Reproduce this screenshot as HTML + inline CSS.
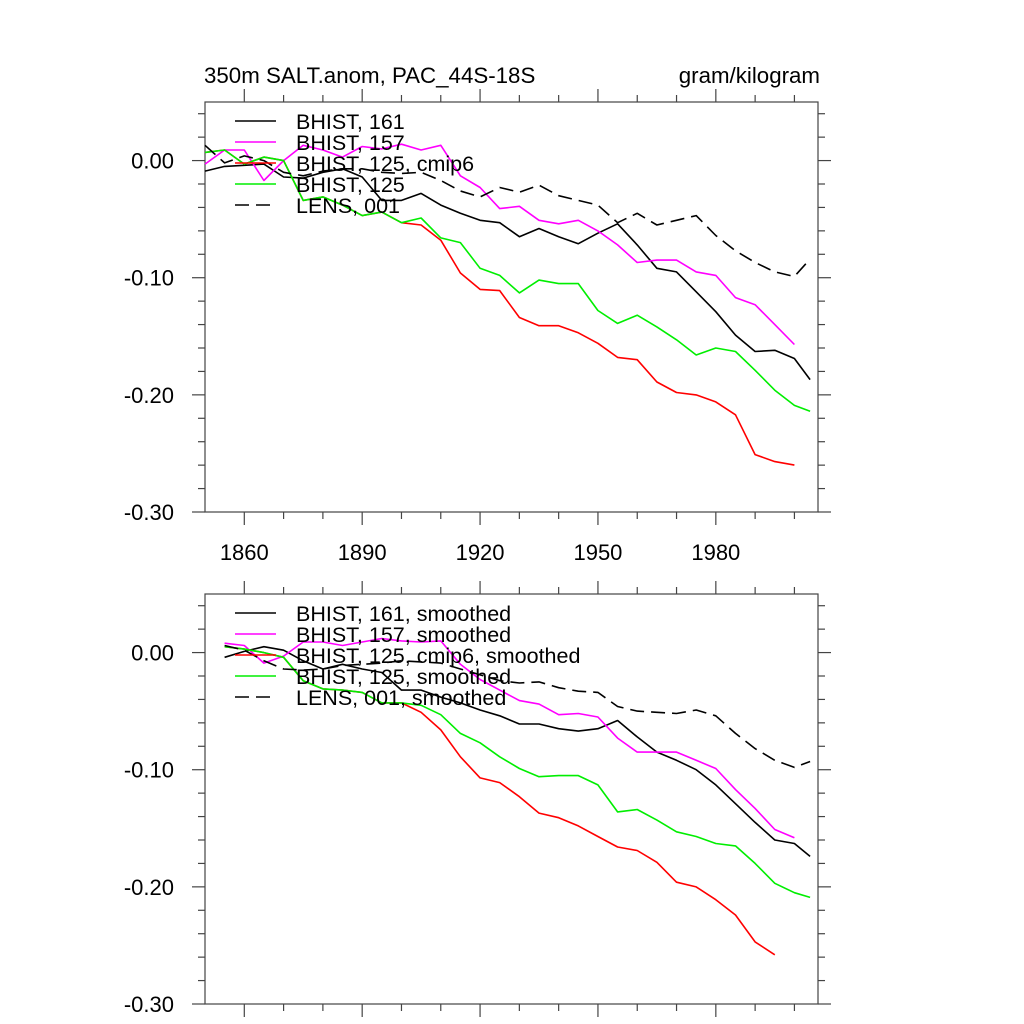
<!DOCTYPE html>
<html><head><meta charset="utf-8"><style>
html,body{margin:0;padding:0;background:#fff}
svg{display:block;font-family:"Liberation Sans",Arial,sans-serif}
</style></head><body>
<svg id="chart" width="1024" height="1024" xmlns="http://www.w3.org/2000/svg">
<text x="204" y="83" font-size="22.3">350m SALT.anom, PAC_44S-18S</text>
<text x="820" y="83" font-size="22.3" text-anchor="end">gram/kilogram</text>
<g id="top"></g>
<g id="bot"></g>
</svg>
<script>
const years = [1850,1855,1860,1865,1870,1875,1880,1885,1890,1895,1900,1905,1910,1915,1920,1925,1930,1935,1940,1945,1950,1955,1960,1965,1970,1975,1980,1985,1990,1995,2000,2004];
const yTicks = [0, -0.1, -0.2, -0.3];
const yTickLabels = ["0.00","-0.10","-0.20","-0.30"];
const xTicks = [1860,1890,1920,1950,1980];
const xTickLabels = ["1860","1890","1920","1950","1980"];

const topBlack = [-0.009,-0.005,-0.004,-0.003,-0.014,-0.015,-0.010,-0.007,-0.014,-0.034,-0.034,-0.028,-0.038,-0.045,-0.051,-0.053,-0.065,-0.058,-0.065,-0.071,-0.062,-0.054,-0.072,-0.092,-0.095,-0.112,-0.129,-0.149,-0.163,-0.162,-0.169,-0.187];
const topMagenta = [-0.003,0.009,0.009,-0.017,0.000,0.013,0.009,0.003,0.012,0.010,0.014,0.009,0.013,-0.013,-0.023,-0.041,-0.039,-0.051,-0.054,-0.051,-0.060,-0.072,-0.087,-0.085,-0.085,-0.095,-0.098,-0.117,-0.123,-0.140,-0.157,null];
const topRed = [0.007,0.009,-0.003,0.003,0.000,-0.034,-0.031,-0.038,-0.047,-0.044,-0.053,-0.055,-0.068,-0.096,-0.110,-0.111,-0.134,-0.141,-0.141,-0.147,-0.156,-0.168,-0.170,-0.189,-0.198,-0.200,-0.206,-0.217,-0.251,-0.257,-0.260,null];
const topGreen = [0.007,0.009,-0.003,0.003,0.000,-0.034,-0.031,-0.038,-0.047,-0.044,-0.053,-0.049,-0.066,-0.070,-0.092,-0.098,-0.113,-0.102,-0.105,-0.105,-0.128,-0.139,-0.132,-0.142,-0.153,-0.166,-0.160,-0.163,-0.179,-0.196,-0.209,-0.214];
const topLens = [0.013,-0.002,0.004,0.000,-0.010,-0.013,-0.009,-0.007,-0.007,-0.010,-0.011,-0.010,-0.017,-0.026,-0.031,-0.023,-0.027,-0.021,-0.030,-0.034,-0.038,-0.053,-0.045,-0.055,-0.051,-0.047,-0.064,-0.077,-0.087,-0.095,-0.099,-0.084];

const botBlack = [null,-0.004,0.001,0.005,0.002,-0.007,-0.014,-0.010,-0.014,-0.017,-0.032,-0.032,-0.038,-0.043,-0.049,-0.054,-0.061,-0.061,-0.065,-0.067,-0.065,-0.058,-0.072,-0.085,-0.092,-0.100,-0.113,-0.129,-0.145,-0.160,-0.163,-0.174];
const botMagenta = [null,0.008,0.006,-0.009,-0.003,0.009,0.009,0.006,0.009,0.012,0.010,0.009,0.010,-0.010,-0.023,-0.032,-0.041,-0.044,-0.053,-0.052,-0.055,-0.073,-0.085,-0.085,-0.085,-0.092,-0.099,-0.117,-0.133,-0.151,-0.158,null];
const botRed = [null,0.005,0.003,0.000,-0.004,-0.024,-0.031,-0.032,-0.034,-0.043,-0.043,-0.051,-0.066,-0.089,-0.107,-0.111,-0.123,-0.137,-0.141,-0.148,-0.157,-0.166,-0.169,-0.179,-0.196,-0.200,-0.211,-0.224,-0.247,-0.258,null,null];
const botGreen = [null,0.005,0.003,0.000,-0.004,-0.024,-0.031,-0.032,-0.034,-0.043,-0.043,-0.045,-0.053,-0.069,-0.077,-0.089,-0.099,-0.106,-0.105,-0.105,-0.113,-0.136,-0.134,-0.143,-0.153,-0.157,-0.163,-0.165,-0.180,-0.197,-0.205,-0.209];
const botLens = [null,0.006,0.002,-0.007,-0.014,-0.015,-0.014,-0.011,-0.010,-0.009,-0.007,-0.008,-0.009,-0.014,-0.019,-0.024,-0.026,-0.025,-0.030,-0.033,-0.034,-0.046,-0.050,-0.051,-0.052,-0.049,-0.054,-0.069,-0.082,-0.092,-0.098,-0.093];

const NS = "http://www.w3.org/2000/svg";
const L = 205, R = 818;
function xs(yr){ return L + (yr - 1850) * (R - L) / 156; }
function mk(tag, attrs, parent){ const e = document.createElementNS(NS, tag); for (const k in attrs) e.setAttribute(k, attrs[k]); parent.appendChild(e); return e; }

function panel(g, top, bottom, series, labels, showXLabels){
  const ys = v => top + (0.05 - v) * (bottom - top) / 0.35;
  const frame = mk('rect', {x:L, y:top, width:R-L, height:bottom-top, fill:'none', stroke:'#444', 'stroke-width':1.2}, g);
  
  
  for (let v = 0.04; v >= -0.3001; v -= 0.02) {
    const major = Math.abs(Math.round(v*100) % 10) === 0;
    const y = ys(v), len = major ? 13 : 7;
    const t1 = mk('line', {x1:L-len, y1:y, x2:L, y2:y, stroke:'#444', 'stroke-width':1.2}, g);
    
    
    const t2 = mk('line', {x1:R, y1:y, x2:R+len, y2:y, stroke:'#444', 'stroke-width':1.2}, g);
    
    
  }
  yTicks.forEach((v, i) => {
    const t = mk('text', {x:174, y:ys(v)+8, 'font-size':22, 'text-anchor':'end'}, g);
    t.textContent = yTickLabels[i];
    
    
  });
  for (let yr = 1860; yr <= 2000; yr += 10) {
    const major = (yr - 1860) % 30 === 0;
    const x = xs(yr), len = major ? 13 : 7;
    const a = mk('line', {x1:x, y1:bottom, x2:x, y2:bottom+len, stroke:'#444', 'stroke-width':1.2}, g);
    
    
    const b = mk('line', {x1:x, y1:top-len, x2:x, y2:top, stroke:'#444', 'stroke-width':1.2}, g);
    
    
  }
  if (showXLabels) xTicks.forEach((yr, i) => {
    const t = mk('text', {x:xs(yr), y:bottom+48, 'font-size':22, 'text-anchor':'middle'}, g);
    t.textContent = xTickLabels[i];
    
    
  });
  series.forEach((s, si) => {
    let d = '';
    s.data.forEach((v, i) => { if (v === null) return; d += (d ? 'L' : 'M') + xs(years[i]).toFixed(1) + ',' + ys(v).toFixed(1); });
    const p = mk('path', {d:d, fill:'none', stroke:s.color, 'stroke-width':1.6, 'stroke-linejoin':'round'}, g);
    if (s.dash) p.setAttribute('stroke-dasharray', '14,7');
    
    
  });
  series.forEach((s, si) => {
    const y = top + 19 + si * 21;
    const ln = mk('line', {x1:235, y1:y, x2:276, y2:y, stroke:s.color, 'stroke-width':1.6}, g);
    if (s.dash) ln.setAttribute('stroke-dasharray', '14,7');
    
    
    const t = mk('text', {x:296, y:y+8, 'font-size':21.5}, g);
    t.textContent = labels[si];
    
    
  });
}

panel(document.getElementById('top'), 102, 512, [
  {name:'bhist-161', color:'#000', data:topBlack},
  {name:'bhist-157', color:'#ff00ff', data:topMagenta},
  {name:'bhist-125-cmip6', color:'#ff0000', data:topRed},
  {name:'bhist-125', color:'#00ee00', data:topGreen},
  {name:'lens-001', color:'#000', data:topLens, dash:true}
], ["BHIST, 161","BHIST, 157","BHIST, 125, cmip6","BHIST, 125","LENS, 001"], true);

panel(document.getElementById('bot'), 594, 1004, [
  {name:'bhist-161-smoothed', color:'#000', data:botBlack},
  {name:'bhist-157-smoothed', color:'#ff00ff', data:botMagenta},
  {name:'bhist-125-cmip6-smoothed', color:'#ff0000', data:botRed},
  {name:'bhist-125-smoothed', color:'#00ee00', data:botGreen},
  {name:'lens-001-smoothed', color:'#000', data:botLens, dash:true}
], ["BHIST, 161, smoothed","BHIST, 157, smoothed","BHIST, 125, cmip6, smoothed","BHIST, 125, smoothed","LENS, 001, smoothed"], false);
</script>
</body></html>
